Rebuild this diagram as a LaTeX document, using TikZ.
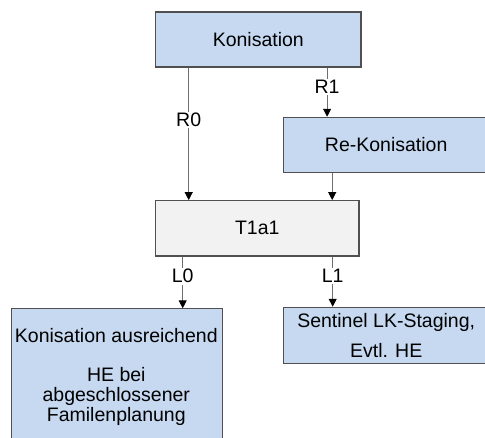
\documentclass[tikz,border=0pt]{standalone}
\usepackage{fontspec}
\setmainfont{Liberation Sans}
\usetikzlibrary{arrows.meta}
\definecolor{boxblue}{HTML}{C6D9F1}
\definecolor{boxgray}{HTML}{F2F2F2}
\definecolor{edgegray}{HTML}{505050}
\definecolor{linegray}{HTML}{6E6E6E}
\tikzset{
  box/.style={draw=edgegray, line width=1.1pt, rectangle, inner sep=0pt},
  bluebox/.style={box, fill=boxblue},
  graybox/.style={box, fill=boxgray},
  txt/.style={font=\fontsize{19.5}{19.7}\selectfont, align=center, inner sep=0pt},
  conn/.style={draw=linegray, line width=1pt, -{Triangle[length=8pt,width=8pt,color=black]}},
  lbl/.style={font=\fontsize{19.5}{19.7}\selectfont, fill=white, inner sep=1.5pt}
}
\begin{document}
\begin{tikzpicture}[x=1pt,y=-1pt]
\useasboundingbox (0,0) rectangle (485,437);
\clip (0,0) rectangle (485,437);
\fill[white] (0,0) rectangle (485,437);

\node[bluebox, minimum width=205.3pt, minimum height=55pt] (kon) at (258.3,39.5) {};
\node[txt] (kontxt) at (kon.center) {Konisation};

\node[bluebox, minimum width=205.7pt, minimum height=55.4pt] (rek) at (386.2,145) {};
\node[txt] (rektxt) at (rek.center) {Re-Konisation};

\node[graybox, minimum width=203.3pt, minimum height=55.3pt] (t1) at (257.3,228.3) {};
\node[txt] (t1txt) at (t1.center) {T1a1};

\node[bluebox, minimum width=211.3pt, minimum height=140pt, anchor=north west] (lbox) at (10.7,308.3) {};
\node[txt, anchor=north] (ltxt) at (116.3,328) {Konisation ausreichend\\[19.7pt]HE bei\\abgeschlossener\\Familenplanung};

\node[bluebox, minimum width=205.7pt, minimum height=56pt] (rbox) at (386.2,335.3) {};
\node[txt, font=\fontsize{19.5}{29.5}\selectfont] (rtxt) at (rbox.center) {Sentinel LK-Staging,\\Evtl. HE};

\draw[conn] ([xshift=33.6pt]kon.south west) -- ([xshift=33.6pt]t1.north west)
  node[lbl, pos=0.396] (r0) {R0};
\draw[conn] ([xshift=172pt]kon.south west) -- ([xshift=172pt]kon.south west |- rek.north)
  node[lbl, pos=0.4] (r1) {R1};
\draw[conn] ([xshift=49.4pt]rek.south west) -- ([xshift=49.4pt]rek.south west |- t1.north);
\draw[conn] ([xshift=27.6pt]t1.south west) -- ([xshift=27.6pt]t1.south west |- lbox.north)
  node[lbl, pos=0.38] (l0) {L0};
\draw[conn] ([xshift=177.6pt]t1.south west) -- ([xshift=177.6pt]t1.south west |- rbox.north)
  node[lbl, pos=0.39] (l1) {L1};
\end{tikzpicture}
\end{document}
